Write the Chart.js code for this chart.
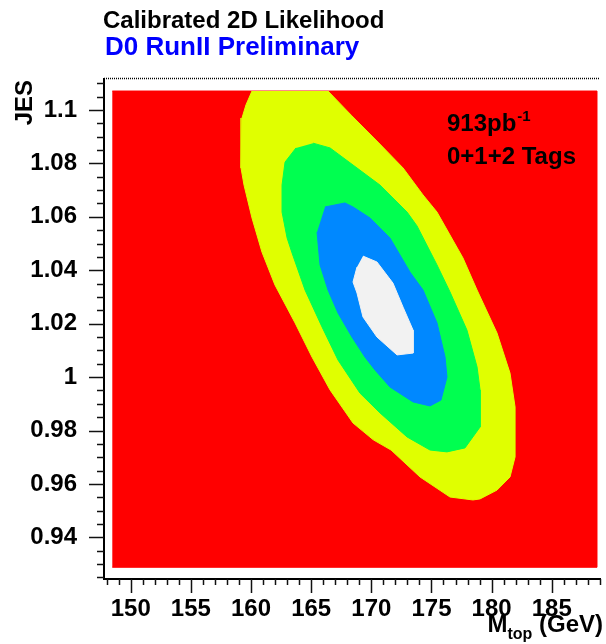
<!DOCTYPE html>
<html><head><meta charset="utf-8">
<script src="https://cdn.jsdelivr.net/npm/chart.js@4.4.0/dist/chart.umd.min.js"></script>
<style>html,body{margin:0;padding:0;background:#fff;overflow:hidden}</style>
</head><body>
<canvas id="c" width="606" height="644" style="display:block;width:606px;height:644px"></canvas>
<script>
// ---------- data ----------
const titleText = 'Calibrated 2D Likelihood';
const subtitleText = 'D0 RunII Preliminary';
const lumiText = '913pb';
const lumiSup = '-1';
const tagsText = '0+1+2 Tags';
const xTitleMain = 'M';
const xTitleSub = 'top';
const xTitleUnit = ' (GeV)';
const yTitleText = 'JES';

const xTickValues = [150, 155, 160, 165, 170, 175, 180, 185];
const xTickLabels = ['150', '155', '160', '165', '170', '175', '180', '185'];
const yTickValues = [0.94, 0.96, 0.98, 1.00, 1.02, 1.04, 1.06, 1.08, 1.10];
const yTickLabels = ['0.94', '0.96', '0.98', '1', '1.02', '1.04', '1.06', '1.08', '1.1'];

// histogram extent (M_top, JES)
const histM = [148.47, 188.76];
const histJES = [0.9288, 1.1071];

// contour level 1 (outer, yellow)
const c1M = [160.08,159.58,159.25,159.17,159.17,159.42,160.08,160.91,161.99,163.66,165.07,166.57,168.48,170.17,171.64,174.05,176.54,178.45,179.04,180.45,181.53,181.95,181.95,181.53,180.45,178.79,177.62,175.46,174.30,172.64,170.55,168.39,166.40];
const c1JES = [1.1071,1.1019,1.0970,1.0843,1.0783,1.0719,1.0596,1.0468,1.0345,1.0203,1.0075,0.9952,0.9828,0.9765,0.9727,0.9626,0.9551,0.9540,0.9544,0.9577,0.9626,0.9701,0.9888,1.0015,1.0165,1.0326,1.0446,1.0618,1.0682,1.0783,1.0880,1.0978,1.1071];
// contour level 2 (green)
const c2M = [165.15,166.57,168.48,170.72,172.97,173.80,175.46,176.54,177.95,178.79,179.04,179.04,177.79,176.29,174.88,172.97,170.72,169.06,167.23,165.90,164.49,163.41,163.00,162.58,162.58,162.83,163.74];
const c2JES = [1.0876,1.0858,1.0794,1.0719,1.0618,1.0566,1.0420,1.0319,1.0176,1.0038,0.9952,0.9813,0.9735,0.9720,0.9727,0.9776,0.9866,0.9940,1.0064,1.0188,1.0326,1.0465,1.0521,1.0618,1.0719,1.0805,1.0858];
// contour level 3 (blue)
const c3M = [166.15,167.81,168.48,169.89,171.55,173.22,174.30,175.46,176.13,176.29,175.79,174.88,173.47,171.55,170.30,169.47,168.39,167.23,166.40,165.74,165.49];
const c3JES = [1.0637,1.0652,1.0637,1.0596,1.0521,1.0393,1.0326,1.0203,1.0075,1.0000,0.9914,0.9892,0.9907,0.9963,1.0027,1.0075,1.0150,1.0240,1.0326,1.0420,1.0543];
// contour level 4 (inner, light)
const c4M = [169.31,170.47,171.80,172.64,173.47,173.47,172.14,170.47,169.31,168.81,168.48,168.81];
const c4JES = [1.0453,1.0431,1.0352,1.0262,1.0176,1.0090,1.0083,1.0150,1.0225,1.0315,1.0356,1.0412];

const levelColors = ['#ff0000', '#e0ff00', '#00ff50', '#0088ff', '#f2f2f2'];

// ---------- build ----------
const FONT = '"Liberation Sans", Arial, Helvetica, sans-serif';
function pts(ms, js) { return ms.map((m, i) => ({x: m, y: js[i]})); }
const polys = [
  pts([histM[0], histM[1], histM[1], histM[0]], [histJES[0], histJES[0], histJES[1], histJES[1]]),
  pts(c1M, c1JES), pts(c2M, c2JES), pts(c3M, c3JES), pts(c4M, c4JES)
];
const datasets = polys.map((p, i) => ({
  data: p, showLine: true, fill: 'shape', tension: 0,
  backgroundColor: levelColors[i], borderColor: levelColors[i], borderWidth: 1,
  pointRadius: 0, order: 10 - i
}));

const decor = {
  id: 'decor',
  beforeDraw(chart) {
    const ctx = chart.ctx;
    ctx.save(); ctx.fillStyle = '#fff'; ctx.fillRect(0, 0, chart.width, chart.height); ctx.restore();
  },
  afterDraw(chart) {
    const ctx = chart.ctx, xs = chart.scales.x, ys = chart.scales.y, ca = chart.chartArea;
    ctx.save();
    ctx.strokeStyle = '#111'; ctx.lineWidth = 1.5;
    // y ticks (minor every 0.005, major on labelled values)
    for (let k = 0; k <= 37; k++) {
      const v = 0.925 + k * 0.005;
      const major = yTickValues.some(t => Math.abs(t - v) < 1e-6);
      const py = Math.round(ys.getPixelForValue(v)) + 0.5;
      const len = major ? 15 : 7;
      ctx.beginPath(); ctx.moveTo(ca.left - len, py); ctx.lineTo(ca.left, py); ctx.stroke();
    }
    // x ticks (minor every 1, major on labelled values)
    for (let v = 148; v <= 189; v++) {
      const major = xTickValues.includes(v);
      const px = Math.round(xs.getPixelForValue(v)) + 0.5;
      const len = major ? 14 : 6;
      ctx.beginPath(); ctx.moveTo(px, ca.bottom); ctx.lineTo(px, ca.bottom + len); ctx.stroke();
    }
    // dotted top frame line
    ctx.setLineDash([1, 1]); ctx.lineWidth = 1.5; ctx.strokeStyle = '#000';
    ctx.beginPath(); ctx.moveTo(ca.left, ca.top - 0.5); ctx.lineTo(ca.right, ca.top - 0.5); ctx.stroke();
    ctx.setLineDash([]);

    // texts
    ctx.textBaseline = 'alphabetic';
    ctx.fillStyle = '#000';
    ctx.font = 'bold 24px ' + FONT;
    ctx.textAlign = 'left';
    ctx.fillText(titleText, 103, 28);
    ctx.fillStyle = '#0000ff';
    ctx.font = 'bold 26px ' + FONT;
    ctx.fillText(subtitleText, 105, 55);
    ctx.fillStyle = '#000';
    ctx.font = 'bold 24px ' + FONT;
    ctx.fillText(lumiText, 447, 131);
    const lw = ctx.measureText(lumiText).width;
    ctx.font = 'bold 15px ' + FONT;
    ctx.fillText(lumiSup, 447 + lw + 1, 121);
    ctx.font = 'bold 24px ' + FONT;
    ctx.fillText(tagsText, 447, 164);

    // x title, right aligned
    ctx.font = 'bold 24px ' + FONT;
    const uw = ctx.measureText(xTitleUnit).width;
    const mw = ctx.measureText(xTitleMain).width;
    ctx.font = 'bold 16px ' + FONT;
    const sw = ctx.measureText(xTitleSub).width;
    const right = 603;
    ctx.font = 'bold 24px ' + FONT;
    ctx.fillText(xTitleUnit, right - uw, 632);
    ctx.fillText(xTitleMain, right - uw - sw - mw, 632);
    ctx.font = 'bold 16px ' + FONT;
    ctx.fillText(xTitleSub, right - uw - sw, 639);

    // y title rotated
    ctx.font = 'bold 24px ' + FONT;
    ctx.translate(32, 80); ctx.rotate(-Math.PI / 2);
    ctx.textAlign = 'right';
    ctx.fillText(yTitleText, 0, 0);
    ctx.restore();
  }
};

const labelFont = {family: FONT, size: 24, weight: 'bold'};
new Chart(document.getElementById('c'), {
  type: 'scatter',
  data: {datasets},
  options: {
    responsive: false, animation: false, devicePixelRatio: 1,
    layout: {padding: {top: 79, right: 6, left: 0, bottom: 0}},
    plugins: {legend: {display: false}, tooltip: {enabled: false}, title: {display: false}},
    scales: {
      x: {
        type: 'linear', position: 'bottom', min: 147.78, max: 189.01,
        afterFit: s => { s.height = 65; },
        afterBuildTicks: s => { s.ticks = xTickValues.map(v => ({value: v})); },
        ticks: {callback: (v, i) => xTickLabels[i], font: labelFont, color: '#000', padding: 16, maxRotation: 0, autoSkip: false},
        grid: {display: true, drawOnChartArea: false, drawTicks: false},
        border: {display: true, color: '#000', width: 2}
      },
      y: {
        type: 'linear', position: 'left', min: 0.92441, max: 1.11161,
        afterFit: s => { s.width = 104; },
        afterBuildTicks: s => { s.ticks = yTickValues.map(v => ({value: v})); },
        ticks: {callback: (v, i) => yTickLabels[i], font: labelFont, color: '#000', padding: 27, autoSkip: false},
        grid: {display: true, drawOnChartArea: false, drawTicks: false},
        border: {display: true, color: '#000', width: 2}
      }
    }
  },
  plugins: [decor]
});
</script>
</body></html>
